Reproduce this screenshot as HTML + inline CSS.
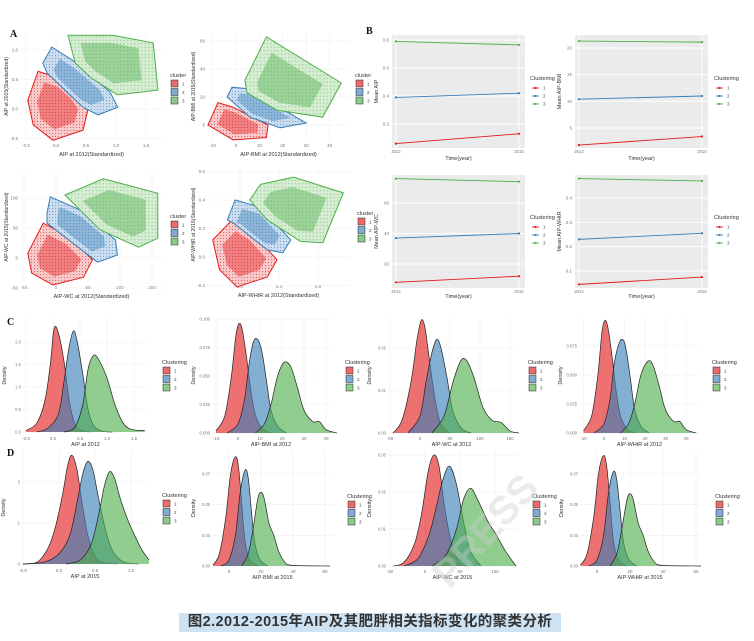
<!DOCTYPE html>
<html><head><meta charset="utf-8">
<style>
html,body{margin:0;padding:0;background:#fff;}
#wrap{position:relative;width:754px;height:641px;overflow:hidden;}
svg{position:absolute;left:0;top:0;}
#cap{position:absolute;left:179px;top:613px;width:382px;height:19px;background:#cde3f4;font-family:"Liberation Sans","Noto Sans CJK SC",sans-serif;font-weight:bold;font-size:14.5px;color:#333;line-height:19px;text-align:center;letter-spacing:0.4px;white-space:nowrap;}
</style></head><body>
<div id="wrap">
<svg id="fig" width="754" height="641" viewBox="0 0 754 641" xmlns="http://www.w3.org/2000/svg">
<defs>
<pattern id="dotR" width="3" height="3" patternUnits="userSpaceOnUse"><circle cx="1.5" cy="1.5" r="0.6" fill="#e41a1c"/></pattern>
<pattern id="dotB" width="3" height="3" patternUnits="userSpaceOnUse"><circle cx="1.5" cy="1.5" r="0.6" fill="#377eb8"/></pattern>
<pattern id="dotG" width="3.5" height="3.5" patternUnits="userSpaceOnUse"><circle cx="1.7" cy="1.7" r="0.6" fill="#4daf4a"/></pattern>
</defs>
</svg>
<div id="cap">图2.2012-2015年AIP及其肥胖相关指标变化的聚类分析</div>
</div>
<script>
// ---------- DATA ----------
const hullA1_c1=[[-0.30,0.64],[-0.47,0.15],[-0.38,-0.27],[-0.05,-0.53],[0.45,-0.36],[0.53,-0.02],[0.35,0.24],[0.03,0.53]];
const hullA1_c2=[[-0.22,0.78],[-0.07,1.05],[0.27,0.83],[0.9,0.29],[1.03,0.03],[0.7,-0.1],[0.45,0.03],[0.18,0.29],[-0.15,0.61]];
const hullA1_c3=[[0.2,1.25],[0.4,1.25],[0.95,1.25],[1.62,1.12],[1.7,0.32],[1.02,0.24],[0.57,0.54],[0.32,0.78]];
const hullA2_c1=[[-7.7,16],[-12,0],[-1.3,-10.6],[13,-9],[13.7,0],[-1.3,12.7]];
const hullA2_c2=[[-3.8,20],[-1.7,27],[4.7,26],[30,1.4],[18.8,-2],[6,5.6]];
const hullA2_c3=[[3.8,32],[13,63],[45,30],[37,5.6],[17.5,10.6],[4.7,23]];
const hullA3_c1=[[-20,58],[-44,8],[-38,-25],[-5,-45],[43,-32],[57,-3],[22,35]];
const hullA3_c2=[[-14,75],[-9,102],[38,80],[93,30],[96,5],[65,-7],[-14,58]];
const hullA3_c3=[[14,105],[74,132],[159,108],[159,33],[129,18],[69,47]];
const hullA4_c1=[[-0.08,0.26],[-0.28,0.12],[-0.21,-0.09],[-0.03,-0.21],[0.28,-0.14],[0.38,-0.02],[0.13,0.17]];
const hullA4_c2=[[-0.13,0.26],[-0.05,0.4],[0.21,0.35],[0.52,0.12],[0.44,0.03],[0.28,0.05],[-0.07,0.24]];
const hullA4_c3=[[0.1,0.4],[0.21,0.51],[0.55,0.56],[1.06,0.45],[0.85,0.1],[0.62,0.11],[0.28,0.26]];

const years=[2012,2015];
const meanAIP_c1=[0.06,0.13], meanAIP_c2=[0.39,0.42], meanAIP_c3=[0.79,0.765];
const meanBMI_c1=[1.8,3.4], meanBMI_c2=[10.4,11.0], meanBMI_c3=[21.3,21.1];
const meanWC_c1=[8,12], meanWC_c2=[37,40], meanWC_c3=[76,74];
const meanWHtR_c1=[0.045,0.075], meanWHtR_c2=[0.23,0.255], meanWHtR_c3=[0.48,0.47];

const dC1_c1=[[-0.5,0.03],[-0.3,0.2],[-0.15,0.7],[-0.05,1.5],[0.02,2.3],[0.1,2.2],[0.2,1.6],[0.3,0.7],[0.4,0.2],[0.5,0.05],[0.7,0]];
const dC1_c2=[[-0.3,0],[-0.1,0.08],[0.1,0.4],[0.2,1.1],[0.3,1.9],[0.38,2.25],[0.45,2.0],[0.55,1.3],[0.65,0.5],[0.75,0.15],[0.9,0.02],[1.1,0]];
const dC1_c3=[[0.2,0],[0.4,0.1],[0.55,0.6],[0.65,1.4],[0.75,1.7],[0.85,1.6],[1.0,1.2],[1.15,0.6],[1.3,0.2],[1.45,0.06],[1.7,0.03]];
const dC2_c1=[[-10,0.002],[-6,0.015],[-3,0.05],[-1,0.085],[0.5,0.096],[2,0.09],[4,0.065],[6,0.035],[8,0.015],[11,0.004],[15,0]];
const dC2_c2=[[-5,0],[0,0.008],[3,0.03],[5,0.06],[7,0.08],[9,0.082],[11,0.07],[13,0.045],[15,0.02],[18,0.006],[22,0]];
const dC2_c3=[[8,0],[12,0.008],[15,0.025],[18,0.05],[21,0.062],[24,0.058],[27,0.04],[30,0.02],[34,0.01],[37,0.01],[40,0.003],[45,0]];
const dC3_c1=[[-45,0],[-30,0.003],[-15,0.012],[-5,0.022],[2,0.0265],[8,0.025],[15,0.018],[25,0.008],[35,0.002],[50,0]];
const dC3_c2=[[-20,0],[0,0.004],[10,0.012],[20,0.019],[28,0.022],[35,0.02],[45,0.013],[55,0.005],[70,0.001],[85,0]];
const dC3_c3=[[20,0],[40,0.004],[55,0.012],[68,0.017],[78,0.017],[90,0.013],[105,0.006],[120,0.003],[135,0.0025],[150,0.0005],[165,0]];
const dC4_c1=[[-10,0.002],[-6,0.015],[-3,0.05],[-1,0.087],[0.5,0.097],[2,0.09],[4,0.065],[6,0.035],[8,0.015],[11,0.004],[15,0]];
const dC4_c2=[[-5,0],[0,0.008],[3,0.03],[5,0.06],[7.5,0.078],[9.5,0.08],[11,0.07],[13,0.045],[15,0.02],[18,0.006],[22,0]];
const dC4_c3=[[8,0],[12,0.008],[15,0.025],[18,0.05],[21.5,0.062],[24,0.058],[27,0.04],[30,0.02],[34,0.01],[37,0.01],[40,0.003],[45,0]];
const dD1_c1=[[-0.5,0],[-0.3,0.05],[-0.15,0.4],[-0.05,0.9],[0.05,1.7],[0.12,2.4],[0.18,2.65],[0.25,2.3],[0.32,1.5],[0.4,0.7],[0.5,0.2],[0.6,0.05],[0.8,0]];
const dD1_c2=[[-0.5,0],[-0.2,0.05],[0,0.25],[0.15,0.7],[0.25,1.5],[0.33,2.2],[0.4,2.5],[0.47,2.3],[0.55,1.6],[0.65,0.8],[0.75,0.3],[0.9,0.05],[1.1,0]];
const dD1_c3=[[0.1,0],[0.3,0.1],[0.45,0.5],[0.55,1.2],[0.63,1.9],[0.7,2.25],[0.77,2.1],[0.85,1.6],[0.95,1.1],[1.05,0.7],[1.15,0.35],[1.25,0.1]];
const dD2_c1=[[-10,0.001],[-6,0.01],[-2,0.04],[1,0.075],[4,0.089],[6,0.08],[8,0.05],[10,0.02],[13,0.005],[18,0]];
const dD2_c2=[[-5,0],[0,0.005],[4,0.025],[7,0.06],[10,0.078],[12,0.072],[14,0.045],[16,0.02],[19,0.006],[24,0]];
const dD2_c3=[[8,0],[12,0.01],[15,0.03],[18,0.055],[20,0.06],[22,0.055],[25,0.035],[28,0.025],[31,0.012],[35,0.003],[40,0.0005],[63,0]];
const dD3_c1=[[-45,0],[-30,0.001],[-15,0.006],[-5,0.014],[5,0.026],[13,0.030],[20,0.027],[28,0.016],[38,0.006],[50,0.001],[60,0]];
const dD3_c2=[[-30,0],[-10,0.002],[5,0.008],[15,0.015],[25,0.023],[35,0.027],[45,0.022],[55,0.012],[65,0.004],[80,0]];
const dD3_c3=[[10,0],[30,0.003],[45,0.01],[55,0.018],[65,0.021],[75,0.018],[90,0.012],[100,0.009],[115,0.004],[130,0]];
const dD4_c1=[[-10,0.001],[-6,0.01],[-2,0.04],[1,0.076],[4,0.09],[6,0.08],[8,0.05],[10,0.02],[13,0.005],[18,0]];
const dD4_c2=[[-5,0],[0,0.005],[4,0.025],[7,0.06],[10,0.077],[12,0.07],[14,0.045],[16,0.02],[19,0.006],[24,0]];
const dD4_c3=[[8,0],[12,0.01],[15,0.03],[18,0.053],[20,0.059],[22,0.054],[25,0.035],[28,0.025],[31,0.012],[35,0.003],[40,0.0005],[63,0]];

const ticksA1x=[-0.5,0.0,0.5,1.0,1.5], ticksA1y=[-0.5,0.0,0.5,1.0];
const ticksA2x=[-10,0,10,20,30,40], ticksA2y=[0,20,40,60];
const ticksA3x=[-50,0,50,100,150], ticksA3y=[-50,0,50,100];
const ticksA4x=[0.0,0.4,0.8], ticksA4y=[-0.2,0.0,0.2,0.4,0.6];
const ticksB1y=[0.2,0.4,0.6,0.8], ticksB2y=[5,10,15,20], ticksB3y=[20,40,60], ticksB4y=[0.1,0.2,0.3,0.4];
const ticksC1x=[-0.5,0.0,0.5,1.0,1.5], ticksC1y=[0.0,0.5,1.0,1.5,2.0];
const ticksC2x=[-10,0,10,20,30,40], ticksC2y=[0,0.025,0.05,0.075,0.1];
const ticksC3x=[-50,0,50,100,150], ticksC3y=[0,0.01,0.02];
const ticksC4x=[-10,0,10,20,30,40], ticksC4y=[0,0.025,0.05,0.075];
const ticksD1x=[-0.5,0.0,0.5,1.0], ticksD1y=[0,1,2];
const ticksD2x=[0,20,40,60], ticksD2y=[0,0.025,0.05,0.075];
const ticksD3x=[-50,0,50,100], ticksD3y=[0,0.01,0.02,0.03];
const ticksD4x=[0,20,40,60], ticksD4y=[0,0.025,0.05,0.075];

// ---------- RENDER ----------
const NS='http://www.w3.org/2000/svg';
const svg=document.getElementById('fig');
const COL=['#e41a1c','#377eb8','#4daf4a'];
const LIGHT=['#f6cccc','#ccddef','#d6edd3'];
const DOT=['url(#dotR)','url(#dotB)','url(#dotG)'];
function el(tag,attrs,parent){const e=document.createElementNS(NS,tag);for(const k in attrs)e.setAttribute(k,attrs[k]);(parent||svg).appendChild(e);return e;}
function txt(s,x,y,size,attrs,parent){const t=el('text',Object.assign({x:x,y:y,'font-size':size,'font-family':'Liberation Sans, sans-serif',fill:'#4d4d4d'},attrs||{}),parent);t.textContent=s;return t;}
function lin(d0,d1,p0,p1){return v=>p0+(v-d0)*(p1-p0)/(d1-d0);}
function fmt(v,dec){return v.toFixed(dec);}

function legend(x,y,title,g){
  const lg=el('g',{},g);
  
  
  txt(title,x,y,5.5,{fill:'#333'},lg);
  for(let i=0;i<3;i++){
    const it=el('g',{},lg);
    
    
    el('rect',{x:x+1,y:y+3+i*8.5,width:7,height:7,fill:COL[i],'fill-opacity':0.65,stroke:'#222','stroke-width':0.5},it);
    txt(String(i+1),x+12,y+8.5+i*8.5,4.5,{fill:'#444'},it);
  }
}

const scatterPanels=[
 {name:'scatter-aip',box:[20,33,163,140],xs:lin(0,1,56,116),ys:lin(0,1,109,50),hulls:[hullA1_c1,hullA1_c2,hullA1_c3],tx:ticksA1x,ty:ticksA1y,dec:1,xl:'AIP at 2012(Standardized)',yl:'AIP at 2015(Standardized)',xlY:156,leg:[170,77]},
 {name:'scatter-aip-bmi',box:[207,33,350,140],xs:lin(0,10,236,259.4),ys:lin(0,20,125,97),hulls:[hullA2_c1,hullA2_c2,hullA2_c3],tx:ticksA2x,ty:ticksA2y,dec:0,xl:'AIP-BMI at 2012(Standardized)',yl:'AIP-BMI at 2015(Standardized)',xlY:156,leg:[355,77]},
 {name:'scatter-aip-wc',box:[20,172,163,282],xs:lin(0,50,56,88),ys:lin(0,50,258,228),hulls:[hullA3_c1,hullA3_c2,hullA3_c3],tx:ticksA3x,ty:ticksA3y,dec:0,xl:'AIP-WC at 2012(Standardized)',yl:'AIP-WC at 2015(Standardized)',xlY:298,leg:[170,218]},
 {name:'scatter-aip-whtr',box:[207,168,350,281],xs:lin(0,0.4,240,279),ys:lin(0,0.2,257,228.5),hulls:[hullA4_c1,hullA4_c2,hullA4_c3],tx:ticksA4x,ty:ticksA4y,dec:1,xl:'AIP-WHtR at 2012(Standardized)',yl:'AIP-WHtR at 2015(Standardized)',xlY:297,leg:[357,215]}
];
scatterPanels.forEach(p=>{
  const g=el('g',{});
  
  
  const [x0,y0,x1,y1]=p.box;
  p.tx.forEach(v=>{const X=p.xs(v);el('line',{x1:X,x2:X,y1:y0,y2:y1,stroke:'#eeeeee','stroke-width':0.6},g);txt(fmt(v,p.dec),X,y1+7,4.5,{'text-anchor':'middle',fill:'#777'},g);});
  p.ty.forEach(v=>{const Y=p.ys(v);el('line',{x1:x0,x2:x1,y1:Y,y2:Y,stroke:'#eeeeee','stroke-width':0.6},g);txt(fmt(v,p.dec),x0-2,Y+1.5,4.5,{'text-anchor':'end',fill:'#777'},g);});
  p.hulls.forEach((h,i)=>{
    const pts=h.map(d=>[p.xs(d[0]),p.ys(d[1])]);
    const poly=el('polygon',{points:pts.map(q=>q.join(',')).join(' '),fill:LIGHT[i],stroke:COL[i],'stroke-width':1},g);
    
    
    const cx=pts.reduce((a,q)=>a+q[0],0)/pts.length, cy=pts.reduce((a,q)=>a+q[1],0)/pts.length;
    const core=pts.map(q=>[cx+(q[0]-cx)*0.68,cy+(q[1]-cy)*0.68]);
    const c=el('polygon',{points:core.map(q=>q.join(',')).join(' '),fill:COL[i],'fill-opacity':0.42},g);
    
    
    const d=el('polygon',{points:pts.map(q=>q.join(',')).join(' '),fill:DOT[i],'fill-opacity':0.6},g);
    
    
  });
  txt(p.xl,(x0+x1)/2,p.xlY,5.5,{'text-anchor':'middle',fill:'#333'},g);
  txt(p.yl,0,0,5,{'text-anchor':'middle',fill:'#333',transform:`translate(${x0-12},${(y0+y1)/2}) rotate(-90)`},g);
  legend(p.leg[0],p.leg[1],'cluster',g);
});

const linePanels=[
 {name:'line-mean-aip',box:[392,35,525,148],ys:lin(0.2,0.8,124,40),s:[meanAIP_c1,meanAIP_c2,meanAIP_c3],ty:ticksB1y,dec:1,yl:'Mean AIP',leg:[530,80],xl:160},
 {name:'line-mean-aip-bmi',box:[575,35,708,148],ys:lin(5,20,128,48),s:[meanBMI_c1,meanBMI_c2,meanBMI_c3],ty:ticksB2y,dec:0,yl:'Mean AIP-BMI',leg:[714,80],xl:160},
 {name:'line-mean-aip-wc',box:[392,175,525,288],ys:lin(20,60,264,203),s:[meanWC_c1,meanWC_c2,meanWC_c3],ty:ticksB3y,dec:0,yl:'Mean AIP-WC',leg:[530,219],xl:298},
 {name:'line-mean-aip-whtr',box:[575,175,708,288],ys:lin(0.1,0.4,271,198),s:[meanWHtR_c1,meanWHtR_c2,meanWHtR_c3],ty:ticksB4y,dec:1,yl:'Mean AIP-WHtR',leg:[714,219],xl:298}
];
linePanels.forEach(p=>{
  const g=el('g',{});
  
  
  const [x0,y0,x1,y1]=p.box;
  const xs=lin(years[0],years[1],x0+4,x1-6);
  el('rect',{x:x0,y:y0,width:x1-x0,height:y1-y0,fill:'#ebebeb'},g);
  for(let k=0;k<p.ty.length;k++){const Y=p.ys(p.ty[k]);el('line',{x1:x0,x2:x1,y1:Y,y2:Y,stroke:'#fff','stroke-width':0.9},g);txt(fmt(p.ty[k],p.dec),x0-3,Y+1.5,4.5,{'text-anchor':'end',fill:'#777'},g);
    if(k<p.ty.length-1){const Ym=(Y+p.ys(p.ty[k+1]))/2;el('line',{x1:x0,x2:x1,y1:Ym,y2:Ym,stroke:'#f6f6f6','stroke-width':0.5},g);}}
  years.forEach(v=>{const X=xs(v);el('line',{x1:X,x2:X,y1:y0,y2:y1,stroke:'#fff','stroke-width':0.9},g);txt(String(v),X,y1+5,4.2,{'text-anchor':'middle',fill:'#777'},g);});
  p.s.forEach((arr,i)=>{
    const pts=arr.map((v,j)=>[xs(years[j]),p.ys(v)]);
    const l=el('polyline',{points:pts.map(q=>q.join(',')).join(' '),fill:'none',stroke:COL[i],'stroke-width':0.9},g);
    
    
    pts.forEach(q=>{const c=el('circle',{cx:q[0],cy:q[1],r:1.1,fill:COL[i]},g);
      
      });
  });
  txt('Time(year)',(x0+x1)/2,p.xl,5.5,{'text-anchor':'middle',fill:'#333'},g);
  txt(p.yl,0,0,5.5,{'text-anchor':'middle',fill:'#333',transform:`translate(${x0-14},${(y0+y1)/2}) rotate(-90)`},g);
  const lg=el('g',{},g);
  
  
  txt('Clustering',p.leg[0],p.leg[1],5.5,{fill:'#333'},lg);
  for(let i=0;i<3;i++){const yy=p.leg[1]+8+i*8;
    el('line',{x1:p.leg[0]+2,x2:p.leg[0]+9,y1:yy,y2:yy,stroke:COL[i],'stroke-width':0.9},lg);
    el('circle',{cx:p.leg[0]+5.5,cy:yy,r:1.1,fill:COL[i]},lg);
    txt(String(i+1),p.leg[0]+13,yy+1.5,4.5,{fill:'#444'},lg);}
});

function smoothPath(pts){
  let d='M'+pts[0][0]+','+pts[0][1];
  for(let i=0;i<pts.length-1;i++){
    const p0=pts[i-1]||pts[i],p1=pts[i],p2=pts[i+1],p3=pts[i+2]||p2;
    const c1=[p1[0]+(p2[0]-p0[0])/6,p1[1]+(p2[1]-p0[1])/6];
    const c2=[p2[0]-(p3[0]-p1[0])/6,p2[1]-(p3[1]-p1[1])/6];
    d+=` C${c1[0]},${c1[1]} ${c2[0]},${c2[1]} ${p2[0]},${p2[1]}`;
  }
  return d;
}
const densPanels=[
 {name:'density-aip-2012',box:[23,318,148,433],xs:lin(0,0.5,53,80),ys:lin(0,2,432,342),c:[dC1_c1,dC1_c2,dC1_c3],tx:ticksC1x,ty:ticksC1y,dx:1,dy:1,xl:'AIP at 2012',leg:[162,364]},
 {name:'density-aip-bmi-2012',box:[212,318,330,433],xs:lin(0,10,238,260),ys:lin(0,0.1,433,319),c:[dC2_c1,dC2_c2,dC2_c3],tx:ticksC2x,ty:ticksC2y,dx:0,dy:3,xl:'AIP-BMI at 2012',leg:[345,364]},
 {name:'density-aip-wc-2012',box:[388,318,515,433],xs:lin(0,50,420,450),ys:lin(0,0.02,433,348),c:[dC3_c1,dC3_c2,dC3_c3],tx:ticksC3x,ty:ticksC3y,dx:0,dy:2,xl:'AIP-WC at 2012',leg:[528,364]},
 {name:'density-aip-whtr-2012',box:[579,318,700,433],xs:lin(0,10,604,624.5),ys:lin(0,0.075,433,346),c:[dC4_c1,dC4_c2,dC4_c3],tx:ticksC4x,ty:ticksC4y,dx:0,dy:3,xl:'AIP-WHtR at 2012',leg:[712,364]},
 {name:'density-aip-2015',box:[22,450,148,565],xs:lin(0,0.5,59,95),ys:lin(0,2,564,482),c:[dD1_c1,dD1_c2,dD1_c3],tx:ticksD1x,ty:ticksD1y,dx:1,dy:0,xl:'AIP at 2015',leg:[162,497]},
 {name:'density-aip-bmi-2015',box:[212,450,333,566],xs:lin(0,20,229,261),ys:lin(0,0.075,566,474),c:[dD2_c1,dD2_c2,dD2_c3],tx:ticksD2x,ty:ticksD2y,dx:0,dy:2,xl:'AIP-BMI at 2015',leg:[347,498]},
 {name:'density-aip-wc-2015',box:[388,450,517,566],xs:lin(0,50,425,460),ys:lin(0,0.01,566,529),c:[dD3_c1,dD3_c2,dD3_c3],tx:ticksD3x,ty:ticksD3y,dx:0,dy:2,xl:'AIP-WC at 2015',leg:[532,498]},
 {name:'density-aip-whtr-2015',box:[580,450,700,566],xs:lin(0,20,597,630),ys:lin(0,0.075,566,474),c:[dD4_c1,dD4_c2,dD4_c3],tx:ticksD4x,ty:ticksD4y,dx:0,dy:2,xl:'AIP-WHtR at 2015',leg:[715,498]}
];
densPanels.forEach(p=>{
  const g=el('g',{});
  
  
  const [x0,y0,x1,y1]=p.box;
  p.tx.forEach(v=>{const X=p.xs(v);el('line',{x1:X,x2:X,y1:y0,y2:y1,stroke:'#eeeeee','stroke-width':0.6},g);txt(fmt(v,p.dx),X,y1+7,4.5,{'text-anchor':'middle',fill:'#777'},g);});
  p.ty.forEach(v=>{const Y=p.ys(v);el('line',{x1:x0,x2:x1,y1:Y,y2:Y,stroke:'#eeeeee','stroke-width':0.6},g);txt(fmt(v,p.dy),x0-2,Y+1.5,4.2,{'text-anchor':'end',fill:'#777'},g);});
  p.c.forEach((arr,i)=>{
    const pts=arr.map(d=>[p.xs(d[0]),p.ys(d[1])]);
    const base=p.ys(0);
    const d=smoothPath(pts)+` L${pts[pts.length-1][0]},${base} L${pts[0][0]},${base} Z`;
    const a=el('path',{d:d,fill:COL[i],'fill-opacity':0.62,stroke:'none'},g);
    
    
    const l=el('path',{d:smoothPath(pts),fill:'none',stroke:'#222','stroke-width':0.7},g);
    
    
  });
  txt(p.xl,(x0+x1)/2,y1+13,5.5,{'text-anchor':'middle',fill:'#333'},g);
  txt('Density',0,0,5.5,{'text-anchor':'middle',fill:'#333',transform:`translate(${x0-17},${(y0+y1)/2}) rotate(-90)`},g);
  legend(p.leg[0],p.leg[1],'Clustering',g);
});

[['A',10,37],['B',366,34],['C',7,325],['D',7,456]].forEach(a=>{
  const t=txt(a[0],a[1],a[2],10,{'font-family':'Liberation Serif, serif','font-weight':'bold',fill:'#111'});
  
  
});
const wm=txt('PRESS',0,0,40,{fill:'#cccccc','fill-opacity':0.4,'font-weight':'bold',transform:'translate(450,590) rotate(-48)'});


</script>
</body></html>
